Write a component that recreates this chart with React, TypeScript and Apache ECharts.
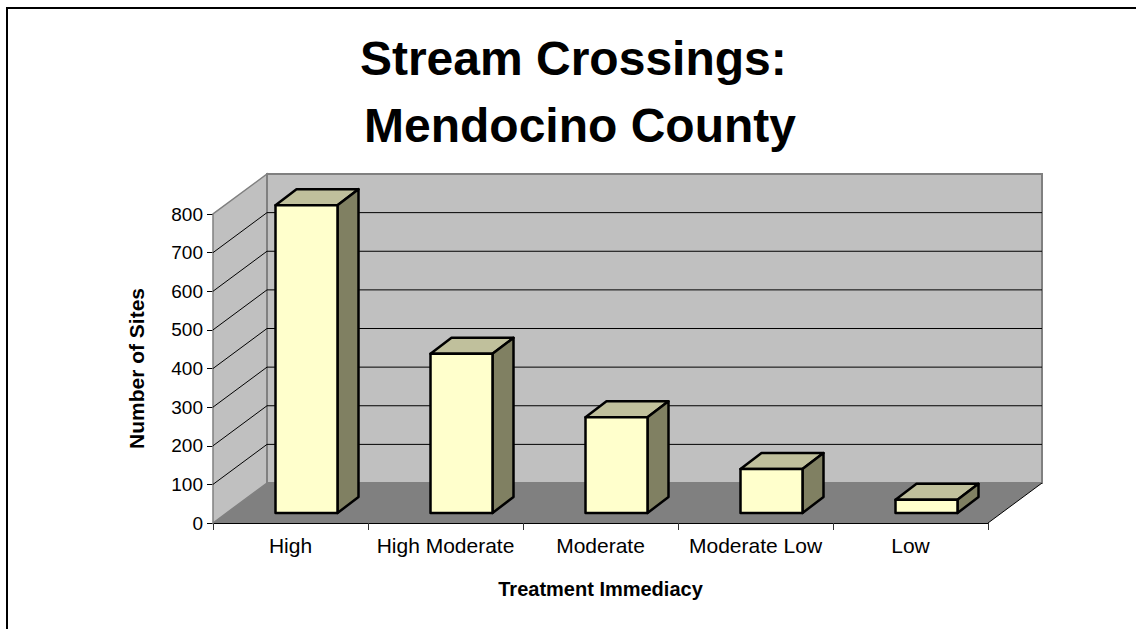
import React, { useEffect, useRef } from "react";
import * as echarts from "echarts";

const titleLines = ["Stream Crossings: ", "Mendocino County"];
const categories = ["High", "High Moderate", "Moderate", "Moderate Low", "Low"];
const sites = [797, 412, 248, 114, 34];
const yMin = 0;
const yMax = 800;
const yStep = 100;
const xAxisName = "Treatment Immediacy";
const yAxisName = "Number of Sites";

// 3D projection constants (style)
const WALL_DX = 54;
const WALL_DY = -40;
const BAR_FX = 16;
const BAR_FY = -10;
const BAR_DX = 21;
const BAR_DY = -16;
const FONT = "'Liberation Sans', Arial, Helvetica, sans-serif";

export default function App() {
  const ref = useRef<HTMLDivElement | null>(null);

  useEffect(() => {
    if (!ref.current) return;
    const chart = echarts.init(ref.current, undefined, { renderer: "svg" });

    const wallsRender = (params: any, api: any) => {
      const cs = params.coordSys;
      const gx = cs.x, gy = cs.y, gw = cs.width, gh = cs.height;
      const children: any[] = [];
      children.push({
        type: "polygon",
        shape: { points: [[gx, gy + gh], [gx, gy], [gx + WALL_DX, gy + WALL_DY], [gx + WALL_DX, gy + gh + WALL_DY]] },
        style: { fill: "#C0C0C0", stroke: "#808080", lineWidth: 1.5 },
      });
      children.push({
        type: "rect",
        shape: { x: gx + WALL_DX, y: gy + WALL_DY, width: gw, height: gh },
        style: { fill: "#C0C0C0", stroke: "#808080", lineWidth: 2 },
      });
      for (let v = yMin + yStep; v < yMax; v += yStep) {
        const y = api.coord([0, v])[1];
        children.push({
          type: "line",
          shape: { x1: gx + WALL_DX, y1: y + WALL_DY, x2: gx + gw + WALL_DX, y2: y + WALL_DY },
          style: { stroke: "#000", lineWidth: 1 },
        });
        children.push({
          type: "line",
          shape: { x1: gx, y1: y, x2: gx + WALL_DX, y2: y + WALL_DY },
          style: { stroke: "#000", lineWidth: 1 },
        });
      }
      children.push({
        type: "polygon",
        shape: { points: [[gx, gy + gh], [gx + gw, gy + gh], [gx + gw + WALL_DX, gy + gh + WALL_DY], [gx + WALL_DX, gy + gh + WALL_DY]] },
        style: { fill: "#808080", stroke: "none" },
      });
      children.push({
        type: "line",
        shape: { x1: gx + gw, y1: gy + gh, x2: gx + gw + WALL_DX, y2: gy + gh + WALL_DY },
        style: { stroke: "#000", lineWidth: 1 },
      });
      return { type: "group", children };
    };

    const barsRender = (params: any, api: any) => {
      const idx = api.value(0);
      const val = api.value(1);
      const p0 = api.coord([idx, 0]);
      const p1 = api.coord([idx, val]);
      const bw = api.size([1, 0])[0] * 0.4;
      const xl = p0[0] - bw / 2 + BAR_FX;
      const xr = xl + bw;
      const yb = p0[1] + BAR_FY;
      const yt = p1[1] + BAR_FY;
      const stroke = { stroke: "#000", lineWidth: 2.5, lineJoin: "round" };
      return {
        type: "group",
        children: [
          {
            type: "polygon",
            shape: { points: [[xl, yt], [xr, yt], [xr + BAR_DX, yt + BAR_DY], [xl + BAR_DX, yt + BAR_DY]] },
            style: { fill: "#C0C09C", ...stroke },
          },
          {
            type: "polygon",
            shape: { points: [[xr, yt], [xr + BAR_DX, yt + BAR_DY], [xr + BAR_DX, yb + BAR_DY], [xr, yb]] },
            style: { fill: "#808062", ...stroke },
          },
          {
            type: "rect",
            shape: { x: xl, y: yt, width: bw, height: yb - yt },
            style: { fill: "#FFFFCC", ...stroke },
          },
        ],
      };
    };

    chart.setOption({
      animation: false,
      backgroundColor: "#FFFFFF",
      title: {
        text: titleLines.join("\n"),
        left: 580,
        textAlign: "center",
        top: 25,
        padding: 0,
        textStyle: { fontFamily: FONT, fontSize: 48, fontWeight: "bold", color: "#000", lineHeight: 67 },
      },
      graphic: [
        {
          type: "rect",
          shape: { x: 7, y: 8, width: 1300, height: 800 },
          style: { fill: "none", stroke: "#000", lineWidth: 2 },
          silent: true,
        },
      ],
      grid: { left: 213, right: 148, top: 214, bottom: 106 },
      xAxis: {
        type: "category",
        data: categories,
        axisLine: { show: true, lineStyle: { color: "#000", width: 1 } },
        axisTick: { show: true, length: 7, lineStyle: { color: "#333" } },
        axisLabel: { fontFamily: FONT, fontSize: 21, color: "#000", margin: 12, interval: 0 },
        name: xAxisName,
        nameLocation: "middle",
        nameGap: 56,
        nameTextStyle: { fontFamily: FONT, fontSize: 20, fontWeight: "bold", color: "#000" },
        splitLine: { show: false },
      },
      yAxis: {
        type: "value",
        min: yMin,
        max: yMax,
        interval: yStep,
        axisLine: { show: true, lineStyle: { color: "#000", width: 1 } },
        axisTick: { show: true, length: 6, lineStyle: { color: "#000" } },
        axisLabel: { fontFamily: FONT, fontSize: 19, color: "#000", margin: 10 },
        name: yAxisName,
        nameLocation: "middle",
        nameGap: 66,
        nameTextStyle: { fontFamily: FONT, fontSize: 21, fontWeight: "bold", color: "#000" },
        splitLine: { show: false },
      },
      series: [
        {
          type: "custom",
          name: "walls",
          renderItem: wallsRender,
          data: [[0, 0]],
          silent: true,
          z: 1,
        },
        {
          type: "custom",
          name: "Sites",
          renderItem: barsRender,
          data: sites.map((v, i) => [i, v]),
          encode: { x: 0, y: 1 },
          z: 2,
        },
      ],
    });

    return () => chart.dispose();
  }, []);

  return (
    <div
      ref={ref}
      style={{ position: "fixed", left: 0, top: 0, width: 1136, height: 629 }}
    />
  );
}
